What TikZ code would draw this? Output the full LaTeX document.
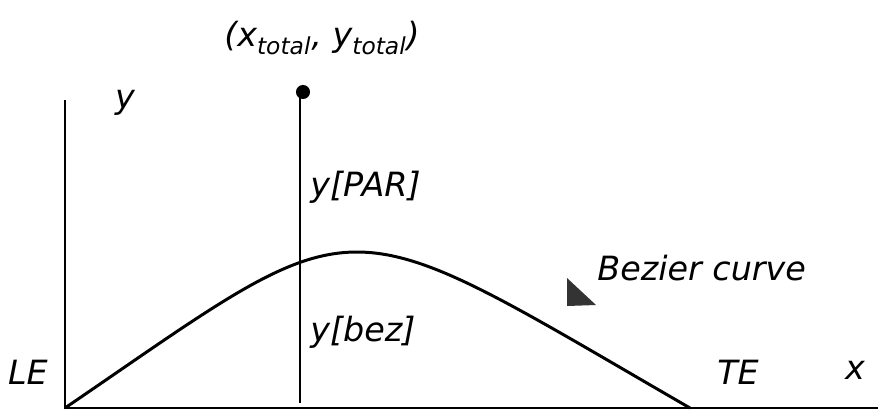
\documentclass[tikz,border=0pt]{standalone}
\usepackage{fontspec}
\setmainfont{DejaVu Sans}
\usetikzlibrary{positioning}
\tikzset{
  lbl/.style={font=\fontsize{19}{22}\selectfont\itshape, inner sep=0pt},
  axisline/.style={line width=1.1pt},
  stalk/.style={line width=0.9pt},
  bezline/.style={line width=1.7pt}
}
\begin{document}
\begin{tikzpicture}[x=0.02cm, y=-0.02cm]
        \useasboundingbox (0,0) rectangle (878,410);
        % axes and points
        \coordinate (LEpt) at (65,408);
        \coordinate (TEpt) at (690,408);
        \coordinate (ytop) at (65,100);
        \coordinate (xend) at (878,408);
        \coordinate (foot) at (300,403);
        \node[circle, fill, inner sep=0pt, minimum size=8pt] (total) at (303,92) {};
        \draw[axisline] (ytop) -- (LEpt) -- (xend);
        \draw[stalk] (300,92) -- (foot);
        \draw[bezline] (LEpt) .. controls (370,200) and (330,200) .. (TEpt);
        \fill[black!80] (567,278) -- (567,306) -- (596,305) -- cycle;
        % labels
        \node[lbl] (totlbl) at (322,38) {(x\textsubscript{total}, y\textsubscript{total})};
        \node[lbl] (ylbl) at (125,103) {y};
        \node[lbl, anchor=west] (parlbl) at (310,187) {y[PAR]};
        \node[lbl, anchor=west] (bezlbl) at (310,332) {y[bez]};
        \node[lbl, anchor=west] (curvelbl) at (597,268) {Bezier curve};
        \node[lbl] (lelbl) at (28,372) {LE};
        \node[lbl] (telbl) at (738,372) {TE};
        \node[lbl] (xlbl) at (855,370) {x};
      \end{tikzpicture}
\end{document}
